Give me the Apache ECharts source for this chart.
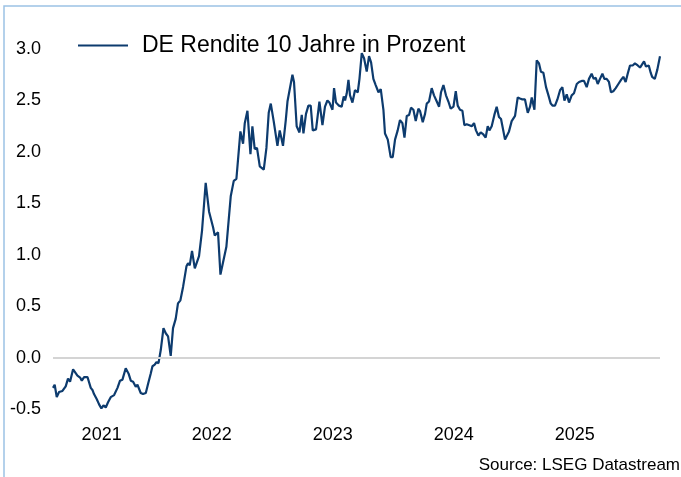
<!DOCTYPE html>
<html>
<head>
<meta charset="utf-8">
<script src="https://cdn.jsdelivr.net/npm/echarts@6/dist/echarts.min.js"></script>
<style>
html,body{margin:0;padding:0;background:#fff;}
#chart{width:681px;height:477px;}
</style>
</head>
<body>
<div id="chart"></div>
<script>
// Series name, source, tick labels
const seriesName = 'DE Rendite 10 Jahre in Prozent';
const sourceText = 'Source: LSEG Datastream';
const yearLabels = ['2021', '2022', '2023', '2024', '2025'];
const yearLabelPos = [2021.59, 2022.5, 2023.5, 2024.5, 2025.5];
const yTicks = { min: -0.5, max: 3.0, step: 0.5 };

const yields2021 = [
  [2021.188,-0.29],[2021.202,-0.26],[2021.219,-0.38],[2021.238,-0.33],[2021.266,-0.32],
  [2021.293,-0.275],[2021.312,-0.20],[2021.329,-0.23],[2021.354,-0.11],[2021.370,-0.11],
  [2021.390,-0.17],[2021.412,-0.19],[2021.426,-0.22],[2021.445,-0.185],[2021.473,-0.185],
  [2021.486,-0.20],[2021.500,-0.29],[2021.514,-0.31],[2021.527,-0.35],[2021.550,-0.40],
  [2021.569,-0.45],[2021.588,-0.49],[2021.605,-0.46],[2021.624,-0.48],[2021.643,-0.43],
  [2021.665,-0.38],[2021.693,-0.36],[2021.721,-0.29],[2021.742,-0.22],[2021.762,-0.21],
  [2021.775,-0.20],[2021.789,-0.10],[2021.812,-0.15],[2021.831,-0.22],[2021.850,-0.23],
  [2021.872,-0.28],[2021.886,-0.26],[2021.913,-0.34],[2021.932,-0.35],[2021.955,-0.34],
  [2021.974,-0.25],[2021.996,-0.15]
];
const yields2022 = [
  [2022.010,-0.08],[2022.029,-0.065],[2022.043,-0.04],[2022.060,-0.05],[2022.079,0.08],
  [2022.101,0.29],[2022.120,0.24],[2022.139,0.21],[2022.161,0.02],[2022.180,0.29],
  [2022.202,0.38],[2022.221,0.53],[2022.241,0.56],[2022.263,0.69],[2022.291,0.89],
  [2022.304,0.92],[2022.318,0.90],[2022.337,1.04],[2022.360,0.87],[2022.395,0.99],
  [2022.420,1.24],[2022.450,1.70],[2022.478,1.42],[2022.511,1.27],[2022.525,1.19],
  [2022.552,1.22],[2022.572,0.81],[2022.588,0.81],[2022.621,1.08],[2022.657,1.57],
  [2022.682,1.72],[2022.704,1.74],[2022.737,2.20],[2022.759,2.08],[2022.773,2.28],
  [2022.795,2.40],[2022.820,1.98],[2022.836,2.25],[2022.855,2.03],[2022.874,2.04],
  [2022.897,1.86],[2022.930,1.83],[2022.952,2.04],[2022.971,2.38],[2022.988,2.47]
];
const yields2023 = [
  [2023.012,2.30],[2023.043,2.06],[2023.062,2.21],[2023.089,2.06],[2023.112,2.31],
  [2023.126,2.49],[2023.142,2.49],[2023.167,2.75],[2023.180,2.68],[2023.202,2.25],
  [2023.225,2.19],[2023.244,2.36],[2023.258,2.18],[2023.279,2.37],[2023.299,2.45],
  [2023.318,2.45],[2023.335,2.21],[2023.362,2.22],[2023.390,2.49],[2023.415,2.26],
  [2023.436,2.44],[2023.456,2.50],[2023.473,2.48],[2023.498,2.41],[2023.511,2.62],
  [2023.527,2.48],[2023.552,2.45],[2023.574,2.44],[2023.591,2.54],[2023.602,2.50],
  [2023.616,2.57],[2023.630,2.70],[2023.643,2.55],[2023.663,2.48],[2023.684,2.60],
  [2023.707,2.58],[2023.721,2.71],[2023.740,2.96],[2023.759,2.91],[2023.781,2.78],
  [2023.800,2.93],[2023.817,2.87],[2023.836,2.71],[2023.855,2.65],[2023.878,2.58],
  [2023.897,2.61],[2023.919,2.41],[2023.932,2.18],[2023.955,2.12],[2023.979,1.95],
  [2023.996,1.95]
];
const yields2024 = [
  [2024.015,2.12],[2024.037,2.21],[2024.056,2.31],[2024.076,2.28],[2024.093,2.14],
  [2024.112,2.35],[2024.131,2.36],[2024.147,2.43],[2024.167,2.41],[2024.186,2.30],
  [2024.208,2.42],[2024.221,2.40],[2024.244,2.29],[2024.263,2.37],[2024.277,2.47],
  [2024.296,2.49],[2024.318,2.62],[2024.337,2.55],[2024.360,2.49],[2024.379,2.44],
  [2024.395,2.58],[2024.415,2.65],[2024.436,2.55],[2024.456,2.49],[2024.475,2.42],
  [2024.498,2.44],[2024.517,2.59],[2024.533,2.45],[2024.552,2.41],[2024.572,2.40],
  [2024.588,2.26],[2024.607,2.27],[2024.630,2.26],[2024.649,2.25],[2024.668,2.28],
  [2024.684,2.21],[2024.704,2.16],[2024.723,2.19],[2024.745,2.17],[2024.764,2.14],
  [2024.781,2.25],[2024.795,2.21],[2024.814,2.25],[2024.836,2.36],[2024.855,2.44],
  [2024.874,2.34],[2024.891,2.32],[2024.911,2.20],[2024.924,2.12],[2024.938,2.11],
  [2024.957,2.20],[2024.979,2.30]
];
const yields2025 = [
  [2025.007,2.35],[2025.029,2.53],[2025.048,2.52],[2025.068,2.51],[2025.089,2.51],
  [2025.112,2.38],[2025.131,2.44],[2025.145,2.53],[2025.167,2.41],[2025.186,2.89],
  [2025.205,2.86],[2025.221,2.78],[2025.241,2.77],[2025.263,2.63],[2025.283,2.55],
  [2025.302,2.47],[2025.318,2.45],[2025.337,2.45],[2025.357,2.51],[2025.379,2.60],
  [2025.398,2.63],[2025.415,2.50],[2025.434,2.56],[2025.453,2.48],[2025.475,2.55],
  [2025.494,2.57],[2025.517,2.66],[2025.536,2.68],[2025.558,2.69],[2025.577,2.69],
  [2025.599,2.63],[2025.618,2.71],[2025.640,2.76],[2025.657,2.71],[2025.674,2.72],
  [2025.690,2.66],[2025.709,2.71],[2025.729,2.76],[2025.745,2.71],[2025.764,2.71],
  [2025.783,2.68],[2025.800,2.58],[2025.819,2.59],[2025.839,2.62],[2025.861,2.66],
  [2025.883,2.70],[2025.902,2.73],[2025.921,2.68],[2025.938,2.76],[2025.957,2.84],
  [2025.979,2.84],[2025.998,2.86]
];
const yields2026 = [
  [2026.021,2.84],[2026.040,2.82],[2026.054,2.82],[2026.073,2.88],[2026.089,2.83],
  [2026.112,2.84],[2026.128,2.77],[2026.140,2.73],[2026.162,2.71],[2026.183,2.80],
  [2026.205,2.93]
];

const data = [].concat(yields2021, yields2022, yields2023, yields2024, yields2025, yields2026);
const FONT = '"Liberation Sans", Arial, sans-serif';
const NAVY = '#0d3b6e';

const chart = echarts.init(document.getElementById('chart'), null, { renderer: 'canvas' });
chart.setOption({
  animation: false,
  backgroundColor: '#ffffff',
  grid: { left: 53, right: 21, top: 49, bottom: 67.5, containLabel: false },
  legend: {
    left: 73, top: 29,
    icon: 'rect', itemWidth: 50, itemHeight: 2,
    textStyle: { fontFamily: FONT, fontSize: 23, color: '#000', padding: [0, 0, 0, 9] },
    data: [{ name: seriesName, itemStyle: { color: NAVY } }]
  },
  xAxis: {
    type: 'value',
    min: data[0][0], max: data[data.length - 1][0],
    axisLine: { show: false }, axisTick: { show: false }, splitLine: { show: false },
    axisLabel: {
      customValues: yearLabelPos,
      formatter: function (v) {
        let best = 0;
        for (let i = 0; i < yearLabelPos.length; i++) {
          if (Math.abs(yearLabelPos[i] - v) < Math.abs(yearLabelPos[best] - v)) best = i;
        }
        return yearLabels[best];
      },
      fontFamily: FONT, fontSize: 18, color: '#000', margin: 17
    }
  },
  yAxis: {
    type: 'value', min: yTicks.min, max: yTicks.max, interval: yTicks.step,
    axisLine: { show: false }, axisTick: { show: false }, splitLine: { show: false },
    axisLabel: {
      formatter: function (v) { return v.toFixed(1); },
      fontFamily: FONT, fontSize: 18, color: '#000', margin: 12
    }
  },
  graphic: [
    { type: 'rect', silent: true, z: -10, shape: { x: 4, y: 6, width: 760, height: 560 },
      style: { fill: 'none', stroke: '#9cc2e5', lineWidth: 1.5 } },
    { type: 'text', right: 1, top: 457, silent: true,
      style: { text: sourceText, fontFamily: FONT, fontSize: 17, fill: '#000' } }
  ],
  series: [
    {
      name: 'zero', type: 'line', data: [], z: 1, silent: true,
      markLine: {
        silent: true, symbol: ['none', 'none'], label: { show: false },
        lineStyle: { color: '#d4d4d4', width: 2, type: 'solid' },
        data: [{ yAxis: 0 }]
      }
    },
    {
      name: seriesName, type: 'line', data: data, z: 3,
      showSymbol: false, symbol: 'none',
      lineStyle: { color: NAVY, width: 2.2 },
      itemStyle: { color: NAVY }
    }
  ]
});
</script>
</body>
</html>
